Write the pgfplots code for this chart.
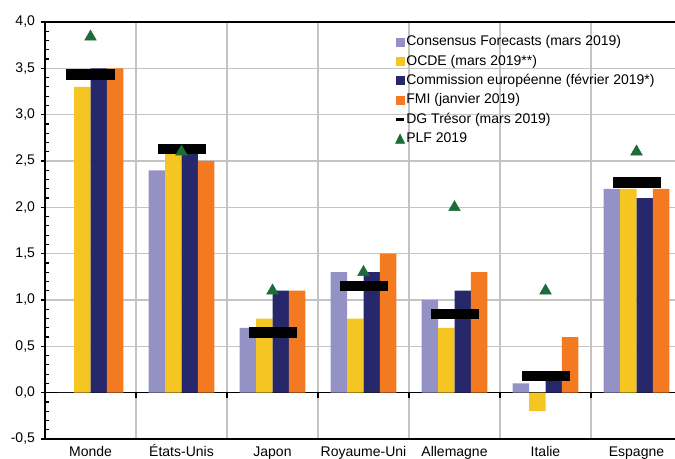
\documentclass[border=0pt]{standalone}
\usepackage{fontspec}
\setmainfont{Liberation Sans}
\usepackage{pgfplots}
\pgfplotsset{compat=1.18}

\definecolor{cfcol}{HTML}{9492C5}
\definecolor{ocdecol}{HTML}{F5C621}
\definecolor{cecol}{HTML}{27276B}
\definecolor{fmicol}{HTML}{F47A22}
\definecolor{plfcol}{HTML}{1D6B36}
\definecolor{gridcol}{HTML}{C4C4C4}

% x positions: 0 Monde, 1 Etats-Unis, 2 Japon, 3 Royaume-Uni, 4 Allemagne, 5 Italie, 6 Espagne
\begin{document}
\begin{tikzpicture}
\begin{axis}[
  at={(0,0)}, anchor=south west,
  scale only axis,
  width=477.75pt, height=312.75pt,
  xmin=-0.5, xmax=6.5,
  ymin=-0.5, ymax=4.0,
  axis line style={black, line width=1.4pt},
  axis lines=box,
  xtick={0,...,6},
  xticklabels={Monde, États-Unis, Japon, Royaume-Uni, Allemagne, Italie, Espagne},
  major x tick style={draw=none},
  minor xtick={0.5,1.5,...,5.5},
  minor x tick style={draw=none},
  minor x grid style={gridcol, line width=1.1pt},
  xminorgrids=true,
  ytick={-0.5,0,...,4.0},
  minor y tick num=4,
  ymajorgrids=true,
  major y grid style={gridcol, line width=1.1pt},
  ytick pos=left,
  ytick align=inside,
  major tick length=3pt,
  minor tick length=3pt,
  every major y tick/.style={xshift=-3pt, black, line width=0.9pt},
  every minor y tick/.style={black, line width=0.9pt},
  tick label style={font=\fontsize{10.5}{12}\selectfont},
  /pgf/number format/assume math mode=true,
  yticklabel style={/pgf/number format/.cd, fixed, fixed zerofill, precision=1, use comma, /tikz/.cd, xshift=-4pt},
  y tick label style={/pgf/number format/.cd, fixed, fixed zerofill, precision=1, use comma},
  xticklabel style={yshift=-2pt, text height=7.6pt, text depth=1pt},
  legend cell align=left,
  legend style={at={(0.543,0.975)}, anchor=north west, draw=none, fill=none,
    font=\fontsize{10.5}{12}\selectfont, row sep=4.3pt,
    nodes={inner xsep=1pt, inner ysep=0pt, text height=7.8pt, text depth=2.4pt}},
  clip=false,
]
% zero line with small ticks at the category boundaries
\draw[black, line width=1.2pt] (axis cs:-0.5,0) -- (axis cs:6.5,0);
\pgfplotsinvokeforeach{0.5,1.5,2.5,3.5,4.5,5.5}{
  \draw[black, line width=1.2pt] (axis cs:#1,0) -- ([yshift=-4pt]axis cs:#1,0);
}

\addplot[ybar, bar width=0.18, bar shift=-0.27, fill=cfcol, draw=none,
  legend image code/.code={\fill[cfcol] (0pt,-3.4pt) rectangle (6.8pt,3.4pt);}]
  coordinates {(0,0) (1,2.4) (2,0.7) (3,1.3) (4,1.0) (5,0.1) (6,2.2)};
\addlegendentry{Consensus Forecasts (mars 2019)}

\addplot[ybar, bar width=0.18, bar shift=-0.09, fill=ocdecol, draw=none,
  legend image code/.code={\fill[ocdecol] (0pt,-3.4pt) rectangle (6.8pt,3.4pt);}]
  coordinates {(0,3.3) (1,2.6) (2,0.8) (3,0.8) (4,0.7) (5,-0.2) (6,2.2)};
\addlegendentry{OCDE (mars 2019**)}

\addplot[ybar, bar width=0.18, bar shift=0.09, fill=cecol, draw=none,
  legend image code/.code={\fill[cecol] (0pt,-3.4pt) rectangle (6.8pt,3.4pt);}]
  coordinates {(0,3.5) (1,2.6) (2,1.1) (3,1.3) (4,1.1) (5,0.2) (6,2.1)};
\addlegendentry{Commission européenne (février 2019*)}

\addplot[ybar, bar width=0.18, bar shift=0.27, fill=fmicol, draw=none,
  legend image code/.code={\fill[fmicol] (0pt,-3.4pt) rectangle (6.8pt,3.4pt);}]
  coordinates {(0,3.5) (1,2.5) (2,1.1) (3,1.5) (4,1.3) (5,0.6) (6,2.2)};
\addlegendentry{FMI (janvier 2019)}

\addplot[only marks, mark=-, mark size=18pt, mark options={black, line width=8pt},
  legend image code/.code={\draw[black, line width=1.6pt] (0.5pt,0pt) -- (6.3pt,0pt);}]
  coordinates {(0,3.43) (1,2.63) (2,0.65) (3,1.15) (4,0.85) (5,0.18) (6,2.27)};
\addlegendentry{DG Trésor (mars 2019)}

\addplot[only marks, mark=triangle*, mark size=5pt, mark options={plfcol, draw=plfcol, fill=plfcol},
  legend image code/.code={\fill[plfcol] (0pt,-3.4pt) -- (6.8pt,-3.4pt) -- (3.4pt,3.6pt) -- cycle;}]
  coordinates {(0,3.84) (1,2.6) (2,1.1) (3,1.3) (4,2.0) (5,1.1) (6,2.6)};
\addlegendentry{PLF 2019}
\end{axis}
\pgfresetboundingbox
\path[use as bounding box] (-33.75pt,-15pt) rectangle (472.5pt,329.25pt);
\end{tikzpicture}
\end{document}
